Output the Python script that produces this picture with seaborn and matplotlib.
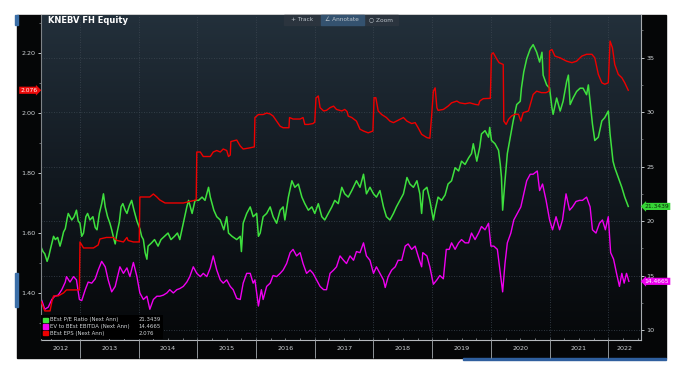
import numpy as np
import matplotlib
matplotlib.use('Agg')
import matplotlib.pyplot as plt
import matplotlib.transforms as mtransforms
from matplotlib.colors import LinearSegmentedColormap
from matplotlib.patches import Patch, Rectangle
import seaborn as sns

# --- data (decimal years) ---
pe_t = [2012.33, 2012.37, 2012.40, 2012.44, 2012.47, 2012.50, 2012.55, 2012.58, 2012.62, 2012.66,
        2012.69, 2012.72, 2012.75, 2012.78, 2012.80, 2012.83, 2012.86, 2012.90, 2012.94, 2012.97,
        2013.00, 2013.03, 2013.06, 2013.10, 2013.13, 2013.17, 2013.22, 2013.26, 2013.29, 2013.33,
        2013.37, 2013.40, 2013.43, 2013.47, 2013.51, 2013.54, 2013.58, 2013.60, 2013.63, 2013.67,
        2013.70, 2013.73, 2013.77, 2013.80, 2013.84, 2013.88, 2013.92, 2013.95, 2013.97, 2014.02,
        2014.05, 2014.08, 2014.11, 2014.14, 2014.16, 2014.22, 2014.27, 2014.33, 2014.38, 2014.44,
        2014.50, 2014.55, 2014.61, 2014.66, 2014.70, 2014.76, 2014.82, 2014.85, 2014.91, 2014.96,
        2015.02, 2015.08, 2015.13, 2015.19, 2015.22, 2015.28, 2015.33, 2015.39, 2015.45, 2015.50,
        2015.53, 2015.59, 2015.67, 2015.73, 2015.75, 2015.78, 2015.84, 2015.90, 2015.95, 2016.01,
        2016.04, 2016.07, 2016.12, 2016.18, 2016.24, 2016.29, 2016.35, 2016.41, 2016.46, 2016.49,
        2016.55, 2016.61, 2016.66, 2016.72, 2016.78, 2016.83, 2016.89, 2016.95, 2017.00, 2017.06,
        2017.12, 2017.17, 2017.23, 2017.29, 2017.34, 2017.40, 2017.46, 2017.51, 2017.57, 2017.63,
        2017.71, 2017.77, 2017.83, 2017.88, 2017.94, 2018.00, 2018.05, 2018.11, 2018.17, 2018.22,
        2018.28, 2018.34, 2018.39, 2018.45, 2018.51, 2018.57, 2018.62, 2018.68, 2018.74, 2018.79,
        2018.82, 2018.85, 2018.91, 2018.96, 2019.02, 2019.05, 2019.10, 2019.16, 2019.22, 2019.27,
        2019.33, 2019.39, 2019.45, 2019.50, 2019.56, 2019.62, 2019.67, 2019.70, 2019.76, 2019.81,
        2019.84, 2019.90, 2019.96, 2019.98, 2020.01, 2020.07, 2020.13, 2020.16, 2020.18, 2020.20,
        2020.24, 2020.28, 2020.33, 2020.38, 2020.44, 2020.50, 2020.52, 2020.56, 2020.61, 2020.67,
        2020.72, 2020.78, 2020.83, 2020.87, 2020.89, 2020.95, 2021.00, 2021.04, 2021.06, 2021.12,
        2021.18, 2021.23, 2021.29, 2021.32, 2021.35, 2021.40, 2021.46, 2021.52, 2021.57, 2021.63,
        2021.66, 2021.70, 2021.73, 2021.77, 2021.83, 2021.89, 2021.94, 2022.00, 2022.03, 2022.08,
        2022.11, 2022.17, 2022.23, 2022.28, 2022.34]
pe_v = [17.7, 17.2, 17.0, 16.3, 16.8, 17.5, 18.6, 18.3, 18.5, 17.7,
        18.3, 19.0, 19.3, 20.2, 20.7, 20.4, 20.1, 20.4, 21.0, 20.0,
        19.8, 18.6, 18.9, 20.4, 20.7, 20.1, 20.4, 19.4, 19.2, 20.7,
        21.6, 22.5, 21.3, 20.4, 19.8, 19.2, 18.3, 17.9, 18.9, 19.9,
        21.3, 21.6, 21.0, 20.7, 21.4, 21.9, 21.0, 20.4, 20.0, 19.3,
        18.6, 18.3, 17.1, 16.5, 17.7, 18.0, 18.3, 17.7, 18.3, 18.6,
        18.9, 18.3, 18.6, 18.9, 18.3, 19.8, 21.3, 21.9, 20.7, 21.9,
        21.9, 22.2, 21.9, 23.1, 22.2, 21.0, 20.4, 20.1, 19.2, 20.4,
        18.9, 18.6, 18.3, 18.6, 17.2, 19.8, 20.7, 21.3, 20.4, 20.7,
        18.6, 18.9, 20.4, 20.7, 21.3, 20.4, 19.8, 21.0, 21.3, 20.1,
        22.2, 23.7, 23.1, 23.4, 22.2, 21.6, 21.0, 21.3, 20.7, 21.6,
        20.4, 20.1, 20.7, 21.3, 21.9, 21.6, 23.1, 22.5, 22.2, 22.8,
        23.7, 23.1, 24.3, 22.5, 23.1, 22.5, 22.2, 22.8, 21.3, 20.4,
        20.1, 20.7, 21.3, 21.9, 22.5, 24.0, 23.4, 23.1, 23.7, 22.5,
        20.7, 22.8, 23.1, 21.9, 20.1, 21.0, 22.2, 21.9, 22.4, 23.4,
        23.7, 24.9, 24.6, 25.5, 25.2, 25.8, 26.2, 27.1, 25.5, 26.8,
        28.0, 28.3, 27.7, 28.6, 27.4, 27.1, 26.5, 25.2, 24.0, 21.0,
        23.7, 26.2, 27.7, 29.2, 30.7, 31.0, 32.2, 33.7, 34.9, 35.8,
        36.2, 35.5, 34.6, 35.5, 33.4, 32.5, 32.2, 30.4, 29.8, 31.3,
        30.1, 31.0, 32.8, 33.4, 30.7, 31.3, 31.9, 32.2, 32.2, 31.6,
        32.5, 30.4, 28.9, 27.4, 27.7, 29.2, 29.5, 30.1, 28.0, 25.5,
        24.9, 24.0, 23.1, 22.2, 21.3439]

ev_t = [2012.35, 2012.40, 2012.46, 2012.52, 2012.57, 2012.63, 2012.69, 2012.75, 2012.77, 2012.83,
        2012.89, 2012.94, 2012.99, 2013.03, 2013.09, 2013.14, 2013.20, 2013.26, 2013.31, 2013.37,
        2013.43, 2013.48, 2013.54, 2013.60, 2013.68, 2013.74, 2013.80, 2013.85, 2013.91, 2013.97,
        2014.02, 2014.08, 2014.14, 2014.19, 2014.25, 2014.31, 2014.36, 2014.42, 2014.48, 2014.53,
        2014.59, 2014.65, 2014.70, 2014.76, 2014.82, 2014.87, 2014.93, 2014.99, 2015.05, 2015.10,
        2015.16, 2015.22, 2015.27, 2015.33, 2015.39, 2015.44, 2015.50, 2015.56, 2015.61, 2015.67,
        2015.73, 2015.78, 2015.84, 2015.90, 2015.95, 2015.98, 2016.04, 2016.09, 2016.12, 2016.18,
        2016.24, 2016.29, 2016.35, 2016.41, 2016.46, 2016.52, 2016.58, 2016.63, 2016.69, 2016.75,
        2016.80, 2016.86, 2016.92, 2016.97, 2017.03, 2017.09, 2017.15, 2017.20, 2017.26, 2017.32,
        2017.37, 2017.43, 2017.49, 2017.54, 2017.60, 2017.66, 2017.71, 2017.77, 2017.83, 2017.88,
        2017.94, 2018.00, 2018.05, 2018.11, 2018.17, 2018.20, 2018.25, 2018.31, 2018.37, 2018.42,
        2018.48, 2018.54, 2018.59, 2018.65, 2018.71, 2018.76, 2018.82, 2018.84, 2018.91, 2018.96,
        2019.02, 2019.08, 2019.13, 2019.19, 2019.24, 2019.29, 2019.33, 2019.39, 2019.45, 2019.50,
        2019.56, 2019.62, 2019.67, 2019.73, 2019.79, 2019.84, 2019.90, 2019.96, 2020.00, 2020.05,
        2020.11, 2020.16, 2020.20, 2020.24, 2020.28, 2020.34, 2020.39, 2020.45, 2020.51, 2020.56,
        2020.61, 2020.67, 2020.72, 2020.79, 2020.83, 2020.88, 2020.94, 2021.00, 2021.05, 2021.11,
        2021.17, 2021.22, 2021.28, 2021.34, 2021.39, 2021.45, 2021.51, 2021.56, 2021.63, 2021.69,
        2021.73, 2021.79, 2021.85, 2021.90, 2021.95, 2022.00, 2022.04, 2022.09, 2022.14, 2022.19,
        2022.23, 2022.27, 2022.31, 2022.35]
ev_v = [12.7, 11.9, 12.1, 12.8, 13.1, 13.2, 13.7, 14.4, 14.9, 14.4,
        14.9, 14.6, 12.8, 12.7, 13.7, 14.4, 14.3, 14.7, 15.5, 16.3,
        15.8, 14.6, 13.5, 14.0, 15.8, 15.2, 15.7, 14.9, 16.2, 14.9,
        13.4, 12.8, 13.1, 11.9, 12.8, 13.1, 13.1, 13.2, 13.4, 13.7,
        13.4, 13.7, 13.8, 14.0, 14.4, 14.9, 15.8, 15.2, 14.9, 15.2,
        14.9, 15.7, 16.8, 15.5, 14.6, 14.3, 14.6, 14.0, 13.7, 12.9,
        12.8, 14.3, 15.2, 15.2, 14.3, 14.6, 12.2, 13.7, 12.8, 14.0,
        14.3, 15.0, 14.9, 15.2, 15.5, 16.1, 17.1, 17.4, 16.8, 17.1,
        16.1, 15.2, 15.5, 15.2, 14.6, 14.0, 13.7, 13.7, 15.2, 15.5,
        15.8, 16.8, 16.4, 16.1, 16.8, 16.4, 17.2, 17.1, 18.0, 16.8,
        16.4, 15.2, 15.8, 15.2, 14.6, 13.9, 14.9, 15.5, 15.8, 16.4,
        16.4, 17.7, 17.9, 17.4, 17.7, 16.8, 15.8, 17.1, 16.8, 15.8,
        14.2, 14.6, 15.0, 14.7, 17.4, 17.4, 18.0, 17.4, 18.0, 18.3,
        18.0, 18.0, 18.9, 18.3, 18.9, 19.5, 19.2, 19.8, 17.7, 17.7,
        17.4, 15.2, 13.5, 16.1, 18.0, 18.9, 20.1, 20.7, 21.3, 22.5,
        23.7, 24.3, 24.3, 24.6, 22.8, 23.4, 21.9, 20.1, 19.2, 20.4,
        19.2, 20.1, 22.5, 21.0, 21.3, 21.8, 21.9, 21.9, 22.2, 21.3,
        19.2, 18.9, 19.8, 20.1, 19.2, 20.4, 17.1, 16.5, 15.2, 14.0,
        15.2, 14.3, 15.2, 14.4665]

eps_t = [2012.34, 2012.40, 2012.49, 2012.52, 2012.55, 2012.63, 2012.72, 2012.77, 2012.89, 2012.99,
         2013.00, 2013.03, 2013.06, 2013.23, 2013.31, 2013.34, 2013.45, 2013.57, 2013.63, 2013.74,
         2013.80, 2013.82, 2013.91, 2014.01, 2014.02, 2014.08, 2014.19, 2014.25, 2014.31, 2014.36,
         2014.45, 2014.59, 2014.76, 2014.87, 2014.98, 2014.99, 2015.05, 2015.10, 2015.22, 2015.27,
         2015.33, 2015.39, 2015.44, 2015.50, 2015.53, 2015.56, 2015.57, 2015.67, 2015.73, 2015.78,
         2015.87, 2015.97, 2015.98, 2016.04, 2016.12, 2016.18, 2016.24, 2016.29, 2016.35, 2016.41,
         2016.46, 2016.52, 2016.56, 2016.57, 2016.63, 2016.75, 2016.80, 2016.83, 2016.89, 2016.97,
         2017.00, 2017.02, 2017.06, 2017.09, 2017.15, 2017.20, 2017.26, 2017.32, 2017.37, 2017.46,
         2017.51, 2017.55, 2017.57, 2017.63, 2017.71, 2017.77, 2017.83, 2017.91, 2017.99, 2018.01,
         2018.04, 2018.08, 2018.14, 2018.22, 2018.28, 2018.34, 2018.39, 2018.45, 2018.51, 2018.57,
         2018.65, 2018.71, 2018.76, 2018.82, 2018.91, 2018.96, 2018.99, 2019.02, 2019.05, 2019.08,
         2019.10, 2019.19, 2019.27, 2019.33, 2019.42, 2019.47, 2019.56, 2019.64, 2019.73, 2019.79,
         2019.81, 2019.87, 2019.99, 2020.01, 2020.04, 2020.10, 2020.14, 2020.21, 2020.22, 2020.26,
         2020.30, 2020.35, 2020.41, 2020.47, 2020.51, 2020.55, 2020.64, 2020.72, 2020.78, 2020.86,
         2020.94, 2020.99, 2021.00, 2021.04, 2021.09, 2021.18, 2021.29, 2021.38, 2021.46, 2021.55,
         2021.63, 2021.72, 2021.77, 2021.83, 2021.89, 2021.94, 2022.00, 2022.03, 2022.07, 2022.11,
         2022.17, 2022.23, 2022.28, 2022.34]
eps_v = [1.37, 1.34, 1.34, 1.37, 1.39, 1.39, 1.40, 1.41, 1.41, 1.41,
         1.57, 1.56, 1.55, 1.55, 1.56, 1.58, 1.585, 1.585, 1.575, 1.57,
         1.585, 1.575, 1.57, 1.57, 1.72, 1.72, 1.72, 1.73, 1.72, 1.71,
         1.70, 1.70, 1.70, 1.705, 1.71, 1.87, 1.87, 1.855, 1.855, 1.87,
         1.875, 1.87, 1.88, 1.875, 1.855, 1.86, 1.905, 1.91, 1.89, 1.88,
         1.883, 1.887, 1.985, 1.995, 1.995, 2.0, 1.997, 1.99, 1.973, 1.956,
         1.951, 1.951, 1.951, 1.985, 1.98, 1.98, 1.985, 1.962, 1.962, 1.965,
         1.97, 2.05, 2.057, 2.018, 2.007, 2.009, 2.018, 2.023, 2.012, 2.007,
         2.012, 2.005, 1.99, 1.985, 1.973, 1.946, 1.94, 1.934, 1.94, 2.051,
         2.051, 2.007, 1.995, 1.985, 1.973, 1.968, 1.973, 1.979, 1.985, 1.973,
         1.965, 1.968, 1.951, 1.929, 1.918, 1.916, 1.99, 2.073, 2.084, 2.018,
         2.009, 2.012, 2.023, 2.034, 2.04, 2.034, 2.031, 2.034, 2.029, 2.027,
         2.04, 2.048, 2.049, 2.196, 2.201, 2.18, 2.168, 2.162, 1.973, 1.962,
         1.979, 1.99, 1.996, 1.996, 1.973, 2.001, 2.007, 2.062, 2.073, 2.068,
         2.068, 2.073, 2.207, 2.212, 2.19, 2.184, 2.173, 2.168, 2.173, 2.19,
         2.196, 2.196, 2.184, 2.129, 2.101, 2.096, 2.101, 2.24, 2.218, 2.162,
         2.129, 2.118, 2.101, 2.076]

series_names = ['BEst P/E Ratio (Next Ann)', 'EV to BEst EBITDA (Next Ann)', 'BEst EPS (Next Ann)']
last_values = ['21.3439', '14.4665', '2.076']
years = [2012, 2013, 2014, 2015, 2016, 2017, 2018, 2019, 2020, 2021, 2022]

GREEN = '#3ee03e'
MAGENTA = '#f000f0'
RED = '#ee0000'
TXT = '#cfd3d6'
W, H = 695, 374

fig = plt.figure(figsize=(W / 100, H / 100), dpi=100, facecolor='white')
# black terminal panel
fig.patches.append(Rectangle((17 / W, 1 - 358 / H), (666 - 17) / W, (358 - 15) / H,
                             transform=fig.transFigure, color='#050607', zorder=-10))
fig.patches.append(Rectangle((15 / W, 1 - 307 / H), 2.5 / W, 34 / H,
                             transform=fig.transFigure, color='#3b6fa8', zorder=-9))
fig.patches.append(Rectangle((15 / W, 1 - 25 / H), 2.5 / W, 10 / H,
                             transform=fig.transFigure, color='#3b6fa8', zorder=-9))
fig.patches.append(Rectangle((463 / W, 1 - 360 / H), (666 - 463) / W, 2 / H,
                             transform=fig.transFigure, color='#2f5f9e', zorder=-9))

ax = fig.add_axes([41 / W, 1 - 340 / H, 600 / W, 325 / H])
axl = ax.twinx()

# gradient background of the plot area
cmap = LinearSegmentedColormap.from_list('bg', ['#06080a', '#121920', '#23303b'])
ax.imshow(np.linspace(0, 1, 256).reshape(-1, 1), cmap=cmap, origin='lower', aspect='auto',
          extent=[0, 1, 0, 1], transform=ax.transAxes, zorder=0)

sns.lineplot(x=pe_t, y=pe_v, ax=ax, color=GREEN, lw=1.1, estimator=None, sort=False, zorder=3)
sns.lineplot(x=ev_t, y=ev_v, ax=ax, color=MAGENTA, lw=1.0, estimator=None, sort=False, zorder=3)
sns.lineplot(x=eps_t, y=eps_v, ax=axl, color=RED, lw=1.0, estimator=None, sort=False, zorder=3)

x0, x1 = 2012.336, 2022.557
ax.set_xlim(x0, x1)
ax.set_ylim(9.08, 38.92)
axl.set_ylim(1.243, 2.327)
for a in (ax, axl):
    a.set_xlabel('')
    a.set_ylabel('')

# right axis (P/E, EV/EBITDA)
ax.yaxis.tick_right()
ax.set_yticks([10, 15, 20, 25, 30, 35])
ax.set_yticks(np.arange(12.5, 38, 5), minor=True)
ax.tick_params(axis='y', which='major', colors='#bfc4c8', labelcolor=TXT, labelsize=4.6,
               length=2.5, width=0.7, pad=1.5, direction='out')
ax.tick_params(axis='y', which='minor', colors='#8a8f94', length=1.5, width=0.5, direction='out')

# left axis (EPS)
axl.yaxis.tick_left()
axl.set_yticks([1.40, 1.60, 1.80, 2.00, 2.20])
axl.set_yticks([1.3, 1.5, 1.7, 1.9, 2.1, 2.3], minor=True)
axl.yaxis.set_major_formatter(matplotlib.ticker.FormatStrFormatter('%.2f'))
axl.tick_params(axis='y', which='major', colors='#bfc4c8', labelcolor=TXT, labelsize=4.6,
                length=2.5, width=0.7, pad=1.5, direction='out')
axl.tick_params(axis='y', which='minor', colors='#8a8f94', length=1.5, width=0.5, direction='out')

# x axis: year separators + centred labels
ax.set_xticks(years[1:])
ax.set_xticklabels([''] * len(years[1:]))
centers = [(max(y, x0) + min(y + 1, x1)) / 2 for y in years]
ax.set_xticks(centers, minor=True)
ax.set_xticklabels([str(y) for y in years], minor=True)
ax.tick_params(axis='x', which='major', colors='#8f9498', length=13, width=0.7, direction='out')
ax.tick_params(axis='x', which='minor', length=0, labelcolor=TXT, labelsize=4.6, pad=4)
sec = ax.secondary_xaxis('bottom')
sec.set_xticks(np.arange(2012.5, 2022.6, 0.25))
sec.tick_params(direction='in', length=1.8, width=0.5, colors='#a9adb1', labelbottom=False)
sec.spines['bottom'].set_visible(False)

ax.grid(True, which='major', linestyle=(0, (1, 2)), color='#3d4752', linewidth=0.6)
ax.set_axisbelow(False)
for gl in ax.get_xgridlines() + ax.get_ygridlines():
    gl.set_zorder(1)

for s in ('top', 'left'):
    ax.spines[s].set_visible(False)
ax.spines['right'].set_color('#a7abaf')
ax.spines['bottom'].set_color('#b5b9bd')
for s in ('top', 'bottom', 'right'):
    axl.spines[s].set_visible(False)
axl.spines['left'].set_color('#7f8488')
for sp in list(ax.spines.values()) + list(axl.spines.values()):
    sp.set_linewidth(0.8)

# title + toolbar
ax.text(0.011, 0.984, 'KNEBV FH Equity', transform=ax.transAxes, ha='left', va='center',
        color='white', fontsize=6, fontweight='bold', zorder=6)
fig.patches.append(Rectangle((284 / W, 1 - 24.5 / H), (398 - 284) / W, 9.5 / H,
                             transform=fig.transFigure, color='#2b343e', zorder=5))
fig.patches.append(Rectangle((321 / W, 1 - 24.5 / H), (364 - 321) / W, 9.5 / H,
                             transform=fig.transFigure, color='#34526f', zorder=5))
for xp, s in [(302, '+ Track'), (342, '∠ Annotate'), (381, '○ Zoom')]:
    fig.text(xp / W, 1 - 19.8 / H, s, ha='center', va='center', color='#b9c1c8',
             fontsize=4.2, zorder=6)

# last-value tags
blend_r = mtransforms.blended_transform_factory(ax.transAxes, ax.transData)
ax.text(1.006, float(last_values[0]), last_values[0], transform=blend_r, ha='left', va='center',
        fontsize=4.3, color='#0a2a0a', zorder=7, clip_on=False,
        bbox=dict(boxstyle='larrow,pad=0.18', fc='#36d436', ec='none'))
ax.text(1.006, float(last_values[1]), last_values[1], transform=blend_r, ha='left', va='center',
        fontsize=4.3, color='white', zorder=7, clip_on=False,
        bbox=dict(boxstyle='larrow,pad=0.18', fc='#ee00ee', ec='none'))
blend_l = mtransforms.blended_transform_factory(axl.transAxes, axl.transData)
axl.text(-0.006, float(last_values[2]), last_values[2], transform=blend_l, ha='right', va='center',
         fontsize=4.3, color='white', zorder=7, clip_on=False,
         bbox=dict(boxstyle='rarrow,pad=0.18', fc='#ee0a0a', ec='none'))

# legend with value column
handles = [Patch(color=GREEN), Patch(color=MAGENTA), Patch(color=RED)]
handles += [Patch(alpha=0) for _ in range(3)]
leg = axl.legend(handles, series_names + last_values, ncol=2, loc='lower left',
                 bbox_to_anchor=(0.0, 0.004), fontsize=3.9, frameon=True, fancybox=False,
                 facecolor='#000000', edgecolor='none', framealpha=1, labelcolor=TXT,
                 handlelength=0.8, handleheight=0.8, handletextpad=0.5, columnspacing=0.3,
                 labelspacing=0.35, borderpad=0.45, borderaxespad=0)
leg.set_zorder(8)

fig.savefig('out.png', dpi=100, facecolor='white')
